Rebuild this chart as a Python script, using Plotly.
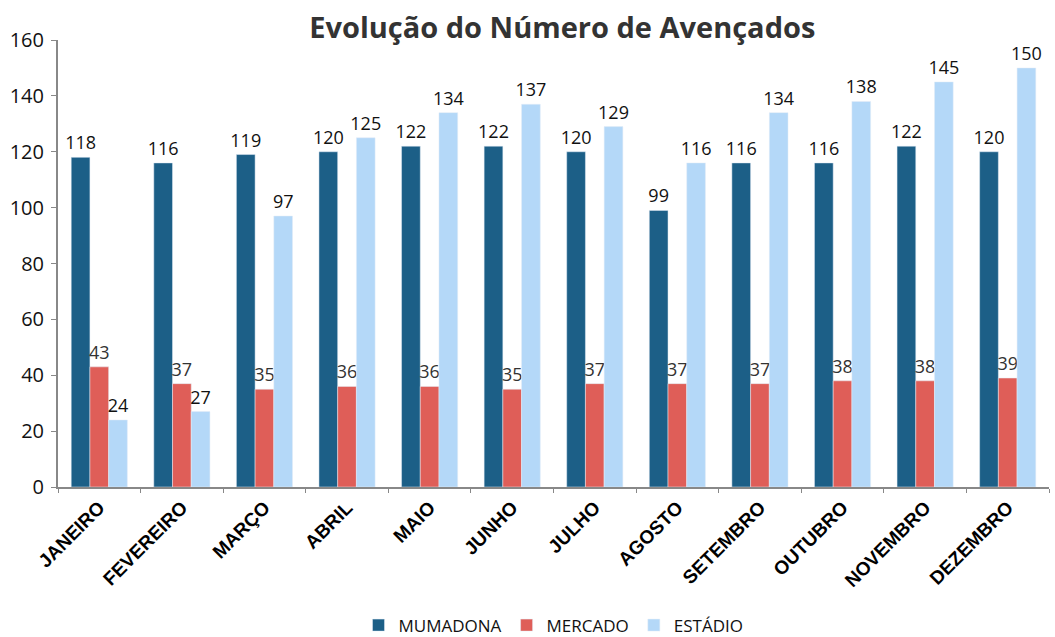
import plotly.graph_objects as go

months = ["JANEIRO", "FEVEREIRO", "MARÇO", "ABRIL", "MAIO", "JUNHO", "JULHO",
          "AGOSTO", "SETEMBRO", "OUTUBRO", "NOVEMBRO", "DEZEMBRO"]
mumadona = [118, 116, 119, 120, 122, 122, 120, 99, 116, 116, 122, 120]
mercado = [43, 37, 35, 36, 36, 35, 37, 37, 37, 38, 38, 39]
estadio = [24, 27, 97, 125, 134, 137, 129, 116, 134, 138, 145, 150]

font_family = "Open Sans, Liberation Sans, sans-serif"
label_font = dict(size=18, color="#111111", family="Open Sans, sans-serif")

fig = go.Figure()
fig.add_trace(go.Bar(name="MUMADONA", x=months, y=mumadona, marker_color="#1c5f87",
                     text=mumadona, textposition="outside", constraintext="none",
                     textfont=label_font, cliponaxis=False))
fig.add_trace(go.Bar(name="MERCADO", x=months, y=mercado, marker_color="#df5e58",
                     text=mercado, textposition="outside", constraintext="none",
                     textfont=dict(size=18, color="#333333"), cliponaxis=False))
fig.add_trace(go.Bar(name="ESTÁDIO", x=months, y=estadio, marker_color="#b4d8f8",
                     text=estadio, textposition="outside", constraintext="none",
                     textfont=label_font, cliponaxis=False))

fig.update_layout(
    width=1055, height=637,
    paper_bgcolor="white", plot_bgcolor="white",
    font=dict(family=font_family, color="#111111"),
    title=dict(text="<b>Evolução do Número de Avençados</b>", x=0.533, xanchor="center",
               y=0.956, yanchor="middle", font=dict(size=29, color="#333333")),
    barmode="group", bargap=0.32, bargroupgap=0,
    margin=dict(l=58, r=6, t=40, b=150, autoexpand=False),
    legend=dict(orientation="h", x=0.5, xanchor="center", y=-0.31, yanchor="middle",
                font=dict(size=17, color="#111111"), itemwidth=30, traceorder="normal"),
    xaxis=dict(showline=True, linecolor="#888888", linewidth=2, ticks="outside",
               tickson="boundaries", ticklen=4, tickcolor="#888888",
               tickangle=-45, tickfont=dict(size=19, color="#000000", family="Liberation Sans Narrow, Liberation Sans, sans-serif"),
               tickprefix="<b>", ticksuffix="</b>"),
    yaxis=dict(range=[0, 160], dtick=20, showgrid=False, zeroline=False,
               showline=True, linecolor="#888888", linewidth=2, ticks="outside",
               ticklen=5, tickcolor="#888888", ticklabelstandoff=3,
               tickfont=dict(size=20, color="#111111")),
)

fig.write_html("out.html", config={"displayModeBar": False},
               post_script="document.body.style.margin='0';document.body.style.overflow='hidden';")
